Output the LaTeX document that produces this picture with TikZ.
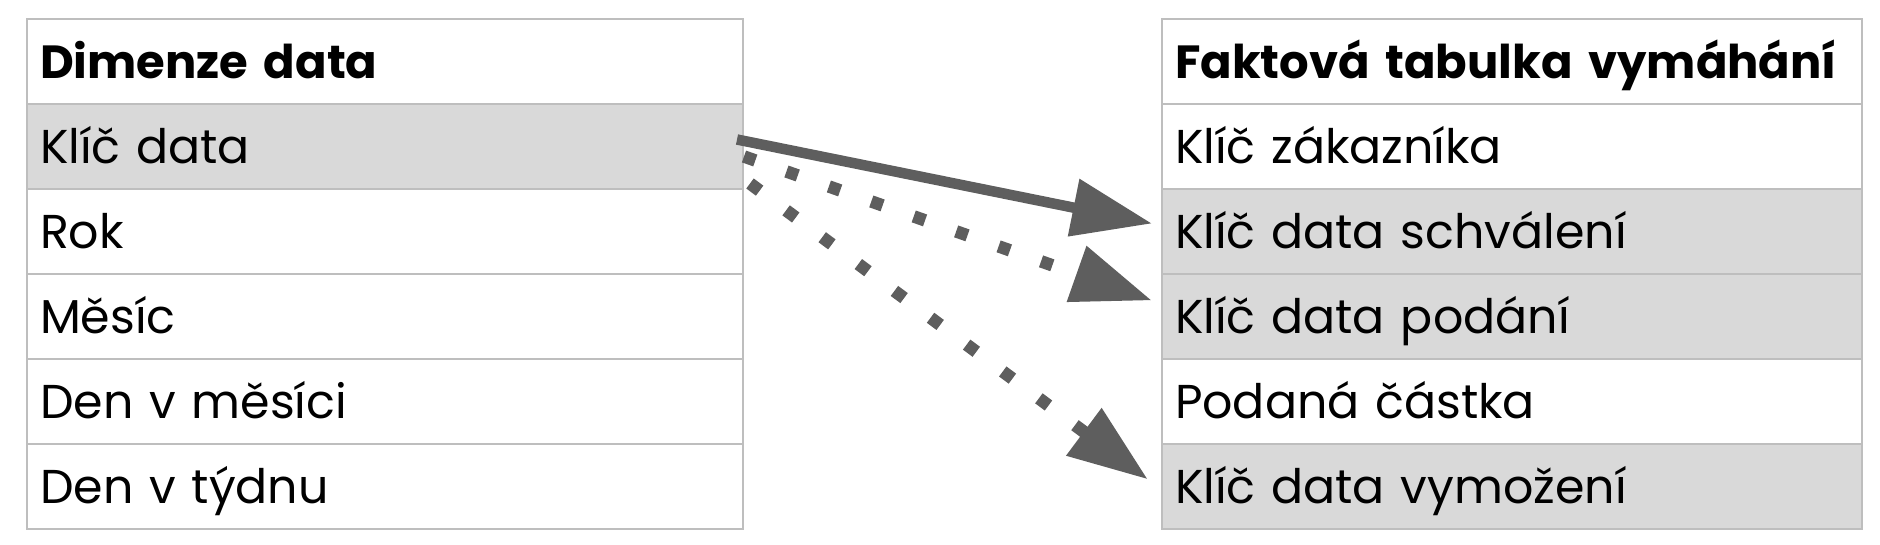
\documentclass[tikz,border=0pt]{standalone}
\usepackage{fontspec}
\setmainfont{Poppins}
\usetikzlibrary{arrows.meta,calc}
\definecolor{gridgray}{RGB}{190,190,190}
\definecolor{keyfill}{RGB}{217,217,217}
\definecolor{arrowgray}{RGB}{94,94,94}
\begin{document}
\begin{tikzpicture}[x=1pt,y=-1pt,
  cell/.style={draw=gridgray, line width=2pt, rectangle, anchor=north west,
    minimum height=85pt, inner xsep=13pt, inner ysep=0pt,
    text height=33pt, text depth=0pt, align=left, font=\fontsize{47.5}{55}\selectfont},
  lcell/.style={cell, minimum width=716pt, text width=690pt},
  rcell/.style={cell, minimum width=700pt, text width=674pt},
  head/.style={font=\fontsize{46.5}{55}\selectfont\bfseries},
  keyrow/.style={fill=keyfill},
  link/.style={draw=arrowgray, line width=10.5pt,
    -{Triangle[length=80pt,width=56pt]}},
  dotlink/.style={link, line width=12.5pt, dash pattern=on 12pt off 33pt}
]
\useasboundingbox (0,0) rectangle (1880,544);

% date dimension
\node[lcell, head]   (l0) at (26,18)  {Dimenze data};
\node[lcell, keyrow] (l1) at (26,103) {Klíč data};
\node[lcell]         (l2) at (26,188) {Rok};
\node[lcell]         (l3) at (26,273) {Měsíc};
\node[lcell]         (l4) at (26,358) {Den v měsíci};
\node[lcell]         (l5) at (26,443) {Den v týdnu};

% enforcement fact table
\node[rcell, head]   (r0) at (1161,18)  {Faktová tabulka vymáhání};
\node[rcell]         (r1) at (1161,103) {Klíč zákazníka};
\node[rcell, keyrow] (r2) at (1161,188) {Klíč data schválení};
\node[rcell, keyrow] (r3) at (1161,273) {Klíč data podání};
\node[rcell]         (r4) at (1161,358) {Podaná částka};
\node[rcell, keyrow] (r5) at (1161,443) {Klíč data vymožení};

% role-playing date keys
\draw[link]    ($(l1.east)+(-7,-7)$) -- ($(r2.west)+(-9,-8)$);
\draw[dotlink] ($(l1.east)+(0,10)$)  -- ($(r3.west)+(-9,-16)$);
\draw[dotlink] ($(l1.east)+(6,37)$)  -- ($(r5.west)+(-13,-7)$);
\end{tikzpicture}
\end{document}
